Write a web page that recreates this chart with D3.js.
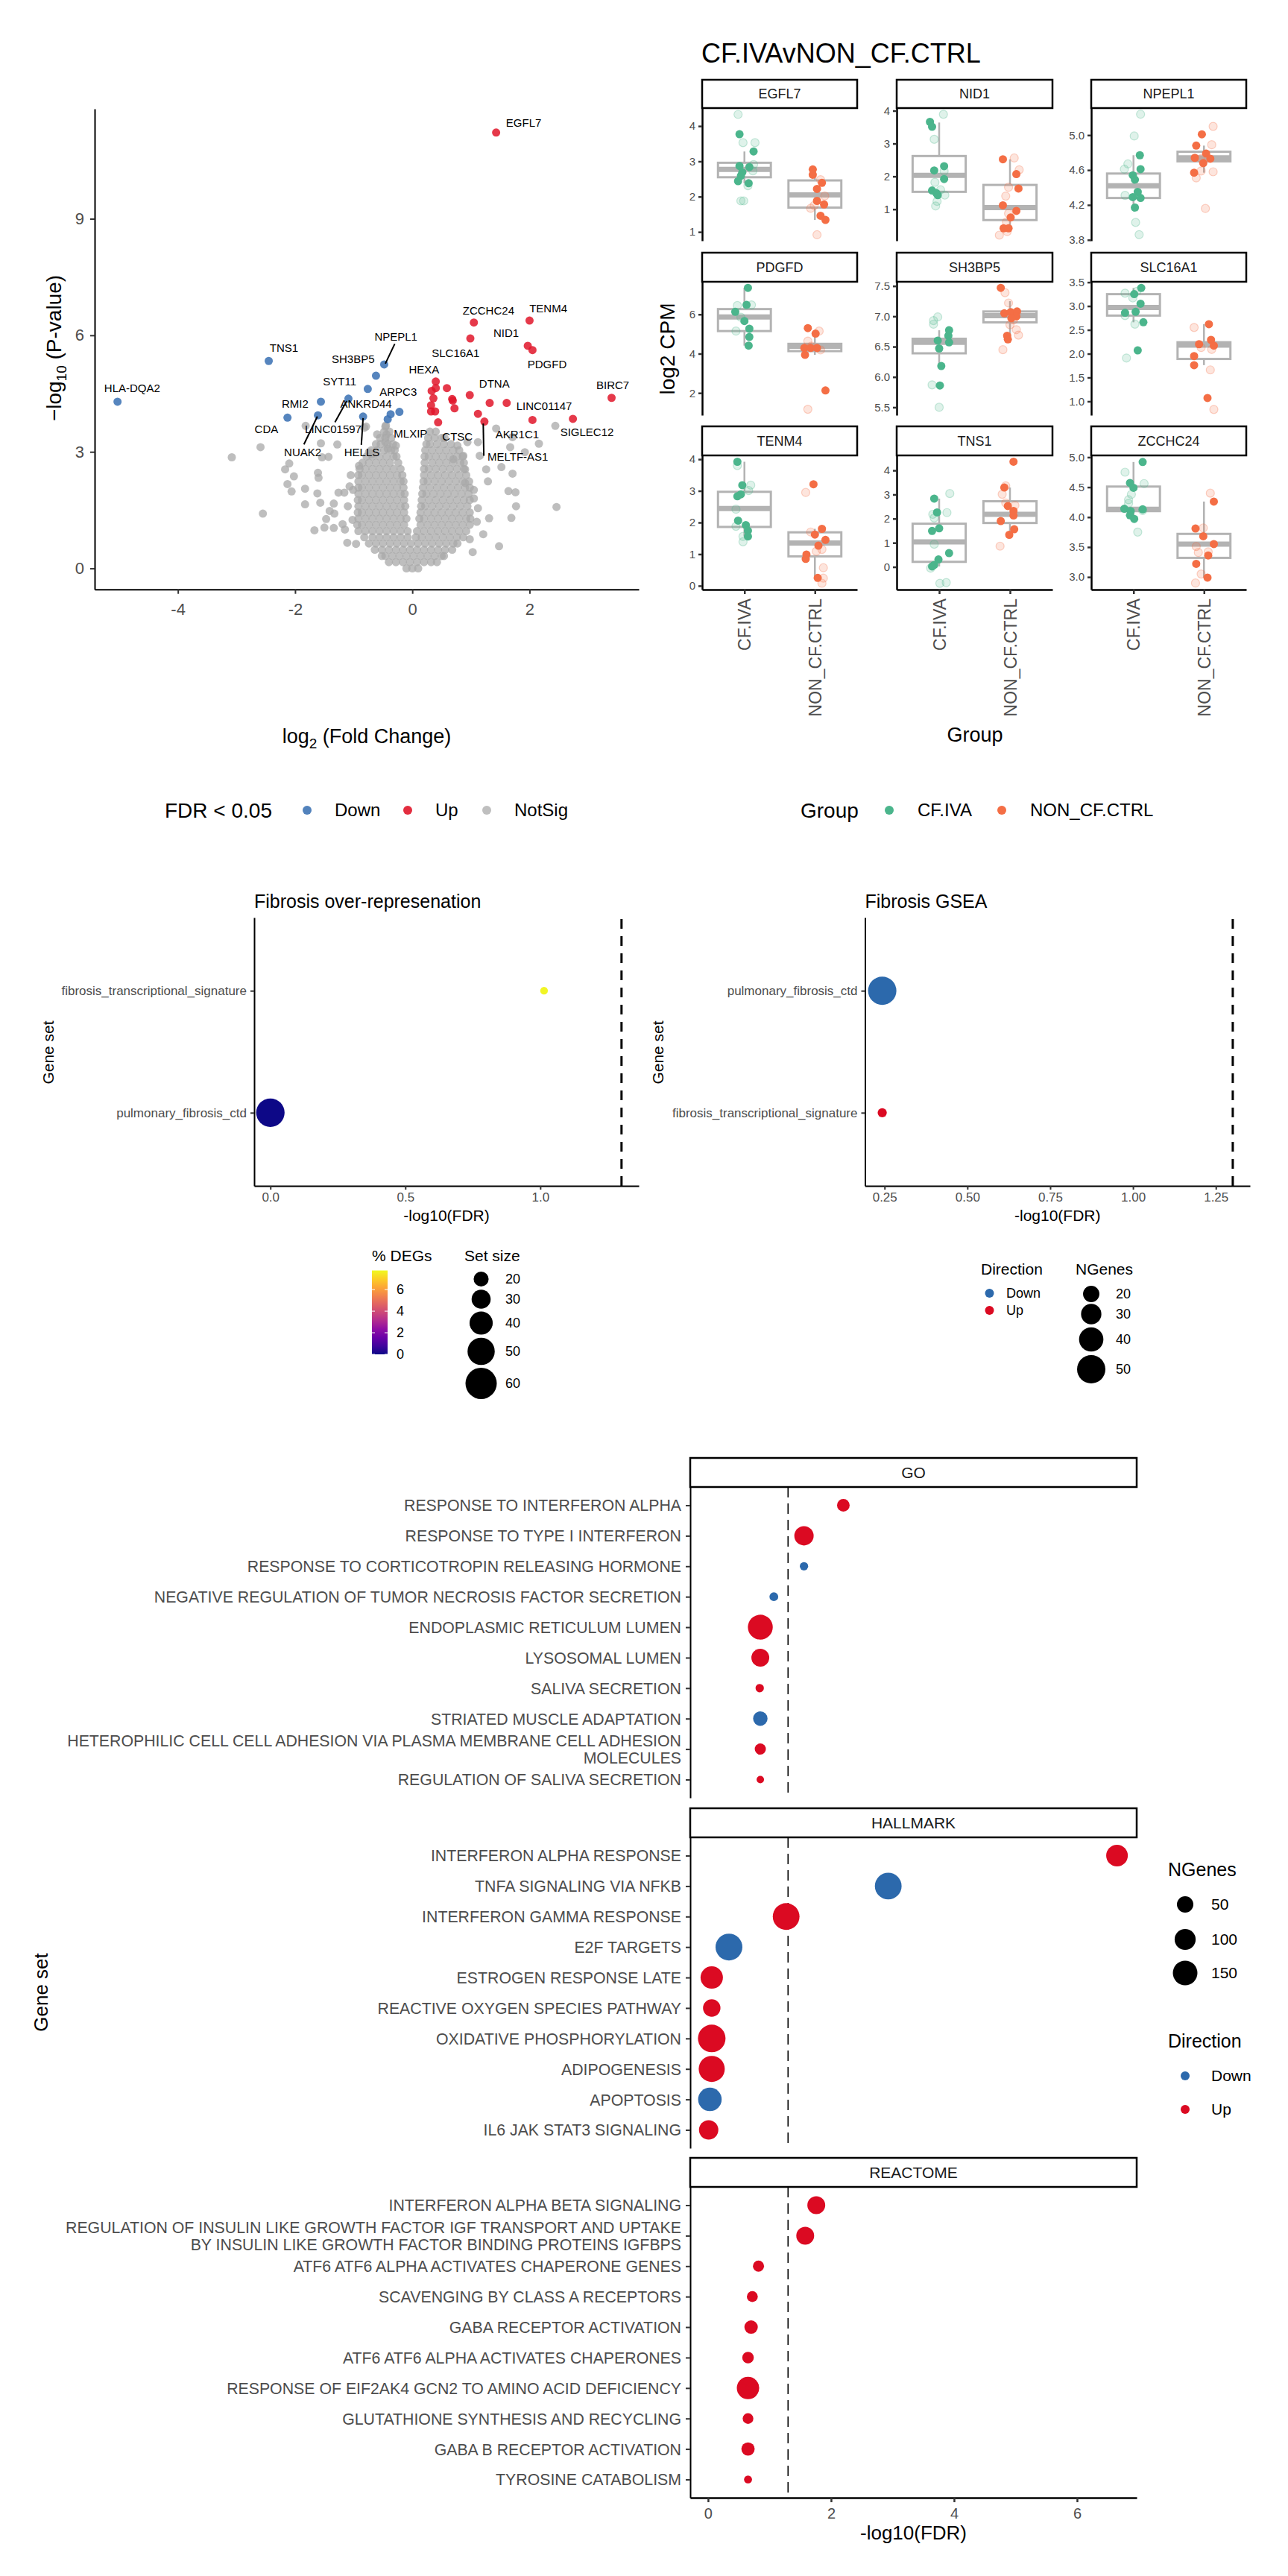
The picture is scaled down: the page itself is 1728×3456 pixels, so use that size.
<!DOCTYPE html>
<html>
<head>
<meta charset="utf-8">
<title>CF.IVAvNON_CF.CTRL</title>
<script src="https://cdn.jsdelivr.net/npm/d3@7"></script>
<style>
  body { margin: 0; background: #fff; }
  svg text { font-family: "Liberation Sans", Arial, Helvetica, sans-serif; }
</style>
</head>
<body>
<svg id="figure" width="1728" height="3456"></svg>
<script>
// ---------------- volcano data ----------------
const downLfc  = [-5.03, -2.45, -2.13, -1.61, -1.56, -1.09, -0.84, -0.76, -0.62, -0.48, -0.42, -0.37, -0.22]
const downLogP = [4.29, 5.34, 3.88, 3.94, 4.29, 4.37, 3.91, 4.62, 4.96, 5.25, 3.84, 3.97, 4.03]

const upLfc  = [1.43, 1.05, 2.0, 0.99, 1.97, 2.05, 3.4, 2.74, 2.05, 1.61, 1.32, 0.98, 1.12, 1.23, 0.40, 0.59, 0.40, 0.33, 0.36, 0.32, 0.32, 0.39, 0.68, 0.69, 0.72, 0.44]
const upLogP = [11.22, 6.33, 6.38, 5.92, 5.73, 5.62, 4.39, 3.85, 3.82, 4.26, 4.26, 4.46, 3.98, 3.78, 4.81, 4.64, 4.64, 4.57, 4.38, 4.2, 4.04, 4.04, 4.36, 4.32, 4.12, 3.76]

// non significant genes outside the dense cloud [log2FC, -log10 P]
const notSigScatter = [
  [-3.08, 2.86], [-2.59, 3.12], [-2.55, 1.41], [-2.17, 2.55], [-2.10, 2.70], [-2.02, 2.37], [-2.13, 2.17],
  [-2.06, 1.98], [-1.83, 2.05], [-1.83, 1.65], [-1.82, 3.67], [-1.62, 1.93], [-1.57, 1.69], [-1.61, 2.46],
  [-1.60, 2.33], [-1.56, 3.22], [-1.54, 2.86], [-1.43, 2.87], [-1.28, 3.19], [-1.26, 1.95], [-1.16, 1.95],
  [-1.41, 1.48], [-1.47, 1.27], [-1.34, 1.67], [-1.33, 1.41], [-1.67, 0.98], [-1.50, 1.05], [-1.34, 1.04],
  [-1.19, 1.14], [-1.15, 1.0], [-1.11, 0.66], [-0.96, 0.63], [-1.07, 2.11], [-1.01, 2.02], [-0.91, 2.64],
  [-0.82, 3.62], [-0.79, 3.65], [-0.60, 3.45], [-0.46, 3.65], [-0.44, 3.45], [-0.28, 3.16], [-0.46, 3.25],
  [-0.42, 3.08], [-0.74, 2.99], [-0.69, 2.94], [-1.05, 2.4], [-1.1, 1.6], [-1.02, 1.25],
  [1.43, 3.60], [1.71, 3.38], [2.16, 3.21], [2.44, 3.67], [1.67, 3.12], [1.92, 2.99], [1.52, 2.61],
  [1.71, 2.44], [1.64, 1.99], [1.76, 1.96], [1.77, 1.60], [2.46, 1.58], [1.69, 1.30], [1.31, 1.29],
  [1.21, 0.88], [1.03, 0.42], [1.48, 0.57], [1.29, 2.24], [1.05, 1.80], [1.12, 3.25], [0.94, 3.25],
  [0.77, 3.16], [0.87, 2.90], [1.15, 2.90], [0.90, 2.55], [0.90, 2.20], [1.05, 2.02], [1.26, 2.55], [0.70, 2.81],
  [1.12, 1.55], [1.1, 1.2], [0.98, 0.75]
]
// dense cloud, read row by row: [-log10 P, [log2FC ...]]
const notSigCoreRows = [
  [0.0, [-0.1, 0.0, 0.1]],
  [0.16, [-0.4, -0.28, -0.16, -0.04, 0.08, 0.2, 0.32, 0.42]],
  [0.32, [-0.52, -0.46, -0.34, -0.22, -0.1, 0.02, 0.14, 0.26, 0.38, 0.5, 0.54]],
  [0.48, [-0.64, -0.52, -0.4, -0.28, -0.16, -0.04, 0.08, 0.2, 0.32, 0.44, 0.56, 0.68]],
  [0.64, [-0.74, -0.62, -0.5, -0.38, -0.26, -0.14, -0.02, 0.1, 0.22, 0.34, 0.46, 0.58, 0.7, 0.77]],
  [0.8, [-0.82, -0.68, -0.56, -0.44, -0.32, -0.2, -0.08, 0.06, 0.16, 0.28, 0.4, 0.52, 0.64, 0.76, 0.87]],
  [0.96, [-0.92, -0.8, -0.68, -0.56, -0.44, -0.32, -0.2, -0.08, 0.08, 0.2, 0.32, 0.44, 0.56, 0.68, 0.8, 0.92]],
  [1.12, [-0.94, -0.86, -0.74, -0.62, -0.5, -0.38, -0.26, -0.14, 0.14, 0.26, 0.38, 0.5, 0.62, 0.74, 0.86, 0.98]],
  [1.28, [-0.92, -0.8, -0.68, -0.56, -0.44, -0.32, -0.2, -0.1, 0.12, 0.2, 0.32, 0.44, 0.56, 0.68, 0.8, 0.92, 0.99]],
  [1.44, [-0.93, -0.86, -0.74, -0.62, -0.5, -0.38, -0.26, -0.14, 0.14, 0.26, 0.38, 0.5, 0.62, 0.74, 0.86, 0.98]],
  [1.6, [-0.92, -0.8, -0.68, -0.56, -0.44, -0.32, -0.2, -0.12, 0.15, 0.22, 0.34, 0.46, 0.58, 0.7, 0.82, 0.94]],
  [1.76, [-0.93, -0.86, -0.74, -0.62, -0.5, -0.38, -0.26, -0.14, 0.16, 0.28, 0.4, 0.52, 0.64, 0.76, 0.88, 0.98]],
  [1.92, [-0.92, -0.8, -0.68, -0.56, -0.44, -0.32, -0.2, -0.13, 0.17, 0.24, 0.36, 0.48, 0.6, 0.72, 0.84, 0.96]],
  [2.08, [-0.92, -0.86, -0.74, -0.62, -0.5, -0.38, -0.26, -0.15, 0.18, 0.3, 0.42, 0.54, 0.66, 0.78, 0.9, 0.98]],
  [2.24, [-0.92, -0.8, -0.68, -0.56, -0.44, -0.32, -0.2, -0.15, 0.19, 0.26, 0.38, 0.5, 0.62, 0.74, 0.86, 0.97]],
  [2.4, [-0.92, -0.86, -0.74, -0.62, -0.5, -0.38, -0.26, -0.17, 0.2, 0.32, 0.44, 0.56, 0.68, 0.8, 0.92]],
  [2.56, [-0.9, -0.8, -0.68, -0.56, -0.44, -0.32, -0.2, 0.2, 0.28, 0.4, 0.52, 0.64, 0.76, 0.88]],
  [2.72, [-0.85, -0.74, -0.62, -0.5, -0.38, -0.24, 0.21, 0.34, 0.46, 0.58, 0.7, 0.82, 0.88]],
  [2.88, [-0.78, -0.68, -0.56, -0.44, -0.32, -0.27, 0.21, 0.28, 0.4, 0.52, 0.64, 0.76, 0.86]],
  [3.04, [-0.7, -0.6, -0.48, -0.36, -0.3, 0.22, 0.34, 0.46, 0.58, 0.7, 0.8]],
  [3.2, [-0.62, -0.54, -0.42, -0.33, 0.24, 0.3, 0.42, 0.54, 0.66]],
  [3.36, [-0.55, -0.46, -0.36, 0.27, 0.38, 0.5, 0.55]],
  [3.52, [-0.48, -0.39, 0.3, 0.4]],
  [3.68, [-0.45]]
]

// gene labels (repelled text positions, data units)
const labelText = ["EGFL7", "ZCCHC24", "TENM4", "NID1", "SLC16A1", "PDGFD", "NPEPL1", "TNS1", "SH3BP5", "HEXA", "DTNA",
  "BIRC7", "SYT11", "ARPC3", "HLA-DQA2", "RMI2", "ANKRD44", "LINC01147", "CDA", "LINC01597", "MLXIP", "CTSC",
  "AKR1C1", "SIGLEC12", "NUAK2", "HELLS", "MELTF-AS1"]
const labelLfc  = [1.90, 1.30, 2.32, 1.60, 0.74, 2.30, -0.28, -2.19, -1.01, 0.20, 1.40, 3.42, -1.24, -0.24, -4.78, -2.0,
  -0.79, 2.25, -2.49, -1.35, -0.03, 0.77, 1.79, 2.98, -1.87, -0.86, 1.80]
const labelLogP = [11.47, 6.64, 6.70, 6.06, 5.55, 5.25, 5.96, 5.67, 5.39, 5.12, 4.76, 4.72, 4.82, 4.55, 4.63, 4.24,
  4.24, 4.17, 3.59, 3.58, 3.47, 3.40, 3.45, 3.50, 2.99, 2.99, 2.88]
// leader segments [x1, y1, x2, y2]
const labelSegments = [[-0.46, 5.27, -0.30, 5.78], [-1.32, 3.76, -1.12, 4.31], [-1.85, 3.19, -1.62, 3.91],
  [-0.87, 3.18, -0.84, 3.87], [1.22, 2.90, 1.21, 3.73]]

// ---------------- expression boxplots ----------------
const boxGenes = ["EGFL7", "NID1", "NPEPL1", "PDGFD", "SH3BP5", "SLC16A1", "TENM4", "TNS1", "ZCCHC24"]
const groups = ["CF.IVA", "NON_CF.CTRL"]
const boxYLimits = [[0.75, 4.51], [0.04, 4.08], [3.79, 5.31], [0.87, 7.66], [5.37, 7.57], [0.71, 3.51],
  [-0.12, 4.12], [-0.94, 4.62], [2.79, 5.03]]
const boxYTicks = [[1, 2, 3, 4], [1, 2, 3, 4], [3.8, 4.2, 4.6, 5.0], [2, 4, 6], [5.5, 6.0, 6.5, 7.0, 7.5],
  [1.0, 1.5, 2.0, 2.5, 3.0, 3.5], [0, 1, 2, 3, 4], [0, 1, 2, 3, 4], [3.0, 3.5, 4.0, 4.5, 5.0]]
const boxTickFmt = ["d", "d", ".1f", "d", ".1f", ".1f", "d", "d", ".1f"]
// [lower whisker, q1, median, q3, upper whisker]
const boxCF = [[2.38, 2.55, 2.77, 2.96, 3.28], [1.43, 1.53, 2.03, 2.62, 3.64], [4.17, 4.28, 4.42, 4.56, 4.77],
  [4.41, 5.15, 5.87, 6.27, 7.35], [6.18, 6.39, 6.57, 6.63, 6.77], [2.66, 2.80, 2.97, 3.25, 3.38],
  [1.56, 1.86, 2.44, 2.97, 3.92], [0.02, 0.21, 1.04, 1.79, 2.83], [3.97, 4.10, 4.13, 4.51, 4.92]]
const boxNON = [[1.34, 1.69, 2.05, 2.46, 2.77], [0.42, 0.67, 1.05, 1.74, 2.52], [4.57, 4.70, 4.74, 4.81, 4.88],
  [3.94, 4.13, 4.38, 4.50, 5.02], [6.62, 6.90, 7.01, 7.08, 7.25], [1.76, 1.89, 2.18, 2.24, 2.62],
  [0.25, 0.93, 1.35, 1.69, 1.80], [1.33, 1.82, 2.18, 2.72, 3.29], [2.99, 3.32, 3.55, 3.72, 4.26]]
// samples [log2 CPM, horizontal jitter in category steps]
const solidCF = [
  [[3.77, -0.07], [3.28, 0.13], [2.87, -0.07], [2.84, 0.07], [2.69, -0.03], [2.59, -0.05], [2.44, -0.09], [2.38, 0.06]],
  [[3.66, -0.13], [3.51, -0.1], [2.31, 0.07], [2.18, -0.07], [1.92, 0.07], [1.57, -0.1], [1.49, -0.04], [1.43, -0.02]],
  [[4.77, 0.09], [4.61, 0.1], [4.54, -0.01], [4.49, 0.02], [4.35, 0.06], [4.29, -0.01], [4.28, 0.1], [4.17, 0.02]],
  [[7.35, 0.05], [6.48, 0.03], [6.13, -0.13], [5.66, 0], [5.27, 0.07], [4.85, 0.07], [4.41, 0.06]],
  [[6.77, 0.14], [6.68, 0.13], [6.60, -0.02], [6.57, 0.14], [6.47, 0], [6.18, 0.03], [5.86, 0.01]],
  [[3.38, 0.11], [3.25, 0.01], [3.05, 0.1], [2.86, -0.12], [2.88, 0.03], [2.66, 0.14], [2.07, 0.06]],
  [[3.92, -0.1], [3.18, -0.03], [2.89, -0.05], [2.83, -0.1], [2.06, -0.09], [1.92, 0.02], [1.74, 0.05], [1.56, 0.05]],
  [[2.83, -0.07], [2.26, -0.03], [1.6, 0], [1.49, -0.1], [0.57, 0.14], [0.31, -0.01], [0.08, -0.07], [0.02, -0.1]],
  [[4.92, 0.13], [4.57, -0.05], [4.49, 0], [4.14, -0.13], [4.10, -0.04], [4.13, 0.13], [4.03, -0.05], [3.97, 0.01]]
]
const fadedCF = [
  [[4.33, -0.09], [3.53, -0.02], [3.53, 0.15], [2.91, 0.13], [2.73, 0.12], [2.31, 0.05], [1.88, -0.05], [1.88, -0.01]],
  [[3.89, 0.06], [3.13, -0.07], [2.16, 0.07], [1.82, -0.06], [1.59, 0.02], [1.43, 0.08], [1.24, -0.03], [1.10, -0.05]],
  [[5.24, 0.1], [4.99, 0.01], [4.67, -0.08], [4.61, -0.13], [4.31, -0.12], [4.0, 0.03], [3.86, 0.08]],
  [[6.45, -0.1], [6.48, 0.1], [5.15, -0.12], [5.85, -0.05]],
  [[6.99, -0.02], [6.93, -0.08], [6.87, -0.08], [5.87, -0.1], [5.50, 0]],
  [[3.27, -0.12], [3.31, 0.05], [3.17, -0.01], [2.80, -0.12], [2.62, 0.02], [1.91, -0.1]],
  [[3.80, -0.1], [3.18, 0.09], [3.01, 0.06], [2.42, -0.12], [1.88, -0.12], [1.56, -0.02], [1.39, -0.02]],
  [[3.04, 0.15], [2.25, 0.11], [2.18, -0.09], [2.03, -0.07], [0.94, -0.07], [-0.05, -0.12], [-0.68, 0.01], [-0.65, 0.1]],
  [[4.75, -0.12], [4.56, 0.15], [4.38, -0.03], [4.29, -0.07], [4.23, -0.07], [4.11, 0.13], [3.75, 0.06]]
]
const solidNON = [
  [[2.77, -0.03], [2.62, -0.03], [2.39, 0.1], [2.22, 0.03], [1.88, 0.03], [1.78, 0.13], [1.46, 0.08], [1.34, 0.15]],
  [[2.52, -0.1], [2.07, 0.09], [1.63, 0.12], [1.12, -0.1], [0.95, 0.09], [0.75, 0.01], [0.42, -0.09], [0.42, -0.02]],
  [[5.01, -0.03], [4.88, -0.11], [4.79, 0.03], [4.74, -0.13], [4.73, 0.09], [4.68, -0.01], [4.57, -0.14]],
  [[5.30, -0.1], [5.02, 0.01], [4.29, -0.15], [4.29, -0.06], [4.29, 0.03], [2.13, 0.15], [3.94, -0.14]],
  [[7.47, -0.13], [7.05, -0.08], [7.07, 0.01], [7.08, 0.1], [7.0, 0.09], [6.97, 0.02], [6.68, -0.04], [6.62, -0.03]],
  [[2.62, 0.07], [2.2, -0.07], [2.29, 0.1], [2.17, 0.14], [1.95, -0.14], [1.76, -0.14], [1.07, 0.05]],
  [[3.21, -0.02], [1.80, 0.1], [1.62, 0], [1.45, 0.15], [1.27, 0.05], [0.99, -0.12], [0.85, -0.13], [0.25, 0.04]],
  [[4.36, 0.05], [3.29, -0.08], [2.52, -0.03], [2.32, 0.05], [2.13, 0.05], [1.90, -0.13], [1.56, 0.06], [1.33, -0.01]],
  [[4.26, 0.14], [3.81, -0.12], [3.68, -0.01], [3.55, 0.14], [3.36, 0.06], [3.22, -0.11], [2.99, 0.05]]
]
const fadedNON = [
  [[2.48, 0.08], [2.02, 0.14], [1.67, -0.06], [1.75, -0.01], [0.92, 0.03]],
  [[2.56, 0.06], [2.2, 0.13], [1.67, -0.02], [1.40, -0.06], [0.87, -0.02], [0.61, -0.05], [0.21, -0.15], [0.32, -0.04]],
  [[5.10, 0.13], [4.89, 0.11], [4.73, -0.04], [4.58, 0.13], [4.59, -0.04], [4.51, -0.11], [4.16, 0.02]],
  [[5.15, 0.06], [4.64, -0.1], [1.17, -0.1], [4.19, 0.08], [4.38, -0.05]],
  [[7.39, -0.07], [7.22, -0.02], [6.86, 0], [6.78, 0.09], [6.69, 0.12], [6.45, -0.1], [6.94, 0.05]],
  [[2.55, -0.14], [2.13, -0.04], [2.09, 0.11], [1.66, 0.09], [0.83, 0.14]],
  [[2.95, -0.13], [1.70, -0.06], [1.15, 0.1], [1.09, 0.02], [0.57, 0.12], [0.24, 0.12], [0.08, 0.1]],
  [[3.36, -0.06], [3.01, -0.11], [2.65, -0.06], [2.55, 0.07], [0.86, -0.14]],
  [[4.40, 0.09], [3.82, -0.01], [3.51, -0.11], [3.41, -0.08], [3.42, 0.06], [3.05, -0.04], [2.90, -0.12]]
]

// ---------------- fibrosis gene sets ----------------
const oraSets = ["pulmonary_fibrosis_ctd", "fibrosis_transcriptional_signature"]
const oraLogFdr = [0.0, 1.014]
const oraPctDEG = [0, 7.7]
const oraSetSize = [53, 2]
const oraSizeBreaks = [20, 30, 40, 50, 60]
const oraColorBreaks = [0, 2, 4, 6]

const gseaSets = ["fibrosis_transcriptional_signature", "pulmonary_fibrosis_ctd"]
const gseaLogFdr = [0.243, 0.243]
const gseaDirection = ["Up", "Down"]
const gseaNGenes = [2, 50]
const gseaSizeBreaks = [20, 30, 40, 50]

// ---------------- pathway enrichment ----------------
const goTerms = ["RESPONSE TO INTERFERON ALPHA", "RESPONSE TO TYPE I INTERFERON", "RESPONSE TO CORTICOTROPIN RELEASING HORMONE",
  "NEGATIVE REGULATION OF TUMOR NECROSIS FACTOR SECRETION", "ENDOPLASMIC RETICULUM LUMEN", "LYSOSOMAL LUMEN",
  "SALIVA SECRETION", "STRIATED MUSCLE ADAPTATION",
  "HETEROPHILIC CELL CELL ADHESION VIA PLASMA MEMBRANE CELL ADHESION MOLECULES", "REGULATION OF SALIVA SECRETION"]
const goLogFdr = [2.2, 1.56, 1.56, 1.07, 0.85, 0.85, 0.84, 0.85, 0.85, 0.85]
const goNGenes = [22, 80, 4, 5, 155, 64, 4, 34, 14, 2]
const goDirection = ["Up", "Up", "Down", "Down", "Up", "Up", "Up", "Down", "Up", "Up"]

const hallmarkTerms = ["INTERFERON ALPHA RESPONSE", "TNFA SIGNALING VIA NFKB", "INTERFERON GAMMA RESPONSE", "E2F TARGETS",
  "ESTROGEN RESPONSE LATE", "REACTIVE OXYGEN SPECIES PATHWAY", "OXIDATIVE PHOSPHORYLATION", "ADIPOGENESIS",
  "APOPTOSIS", "IL6 JAK STAT3 SIGNALING"]
const hallmarkLogFdr = [6.65, 2.93, 1.27, 0.34, 0.06, 0.06, 0.06, 0.06, 0.03, 0.01]
const hallmarkNGenes = [108, 185, 185, 187, 118, 60, 200, 174, 134, 80]
const hallmarkDirection = ["Up", "Down", "Up", "Down", "Up", "Up", "Up", "Up", "Down", "Up"]

const reactomeTerms = ["INTERFERON ALPHA BETA SIGNALING",
  "REGULATION OF INSULIN LIKE GROWTH FACTOR IGF TRANSPORT AND UPTAKE BY INSULIN LIKE GROWTH FACTOR BINDING PROTEINS IGFBPS",
  "ATF6 ATF6 ALPHA ACTIVATES CHAPERONE GENES", "SCAVENGING BY CLASS A RECEPTORS", "GABA RECEPTOR ACTIVATION",
  "ATF6 ATF6 ALPHA ACTIVATES CHAPERONES", "RESPONSE OF EIF2AK4 GCN2 TO AMINO ACID DEFICIENCY",
  "GLUTATHIONE SYNTHESIS AND RECYCLING", "GABA B RECEPTOR ACTIVATION", "TYROSINE CATABOLISM"]
const reactomeLogFdr = [1.76, 1.58, 0.82, 0.72, 0.70, 0.65, 0.65, 0.65, 0.65, 0.65]
const reactomeNGenes = [64, 64, 14, 13, 27, 16, 118, 12, 26, 3]
const reactomeDirection = ["Up", "Up", "Up", "Up", "Up", "Up", "Up", "Up", "Up", "Up"]
const pathwaySizeBreaks = [50, 100, 150]

// ================= drawing =================
const svg = d3.select("#figure")
svg.append("rect").attr("width", 1728).attr("height", 3456).attr("fill", "#fff")

const TXT = "#4D4D4D"
const UP_RED = "#DB0A22"
const DOWN_BLUE = "#2C69AC"
const groupColor = ["#4BB58C", "#F46E45"]
const dirColor = { Up: UP_RED, Down: DOWN_BLUE }

function axisStyle(g, size, lw) {
  g.attr("font-size", size)
  g.select(".domain").attr("stroke", "#000").attr("stroke-width", lw)
  g.selectAll(".tick line").attr("stroke", "#333").attr("stroke-width", lw)
  g.selectAll(".tick text").attr("fill", TXT)
  return g
}

function rotLabel(x, y, txt, size) {
  return svg.append("text").attr("transform", `translate(${x},${y}) rotate(-90)`)
    .attr("text-anchor", "middle").attr("font-size", size).text(txt)
}

// ---------- volcano ----------
const vx = d3.scaleLinear().domain([-5.42, 3.864]).range([127, 857])
const vy = d3.scaleLinear().domain([-0.54, 11.83]).range([790.7, 146])
const volcano = svg.append("g")
const PT_R = 5.5

const greyPts = notSigScatter.concat(notSigCoreRows.flatMap(([p, xs]) => xs.map(x => [x, p])))
volcano.append("g").selectAll("circle").data(greyPts).join("circle")
  .attr("cx", d => vx(d[0])).attr("cy", d => vy(d[1])).attr("r", PT_R)
  .attr("fill", "#A8A8A8").attr("fill-opacity", 0.75)
volcano.append("g").selectAll("circle").data(d3.zip(downLfc, downLogP)).join("circle")
  .attr("cx", d => vx(d[0])).attr("cy", d => vy(d[1])).attr("r", PT_R)
  .attr("fill", "#3F74B5").attr("fill-opacity", 0.88)
volcano.append("g").selectAll("circle").data(d3.zip(upLfc, upLogP)).join("circle")
  .attr("cx", d => vx(d[0])).attr("cy", d => vy(d[1])).attr("r", PT_R)
  .attr("fill", "#E0162A").attr("fill-opacity", 0.85)

volcano.append("g").selectAll("line").data(labelSegments).join("line")
  .attr("x1", d => vx(d[0])).attr("y1", d => vy(d[1])).attr("x2", d => vx(d[2])).attr("y2", d => vy(d[3]))
  .attr("stroke", "#000").attr("stroke-width", 2)
volcano.append("g").selectAll("text").data(labelText).join("text")
  .attr("x", (d, i) => vx(labelLfc[i])).attr("y", (d, i) => vy(labelLogP[i])).attr("dy", "0.35em")
  .attr("text-anchor", "middle").attr("font-size", 15).text(d => d)

axisStyle(volcano.append("g").attr("transform", "translate(0,790.7)")
  .call(d3.axisBottom(vx).tickValues([-4, -2, 0, 2]).tickFormat(d => d).tickSize(6).tickSizeOuter(0).tickPadding(13)), 22, 2)
axisStyle(volcano.append("g").attr("transform", "translate(127,0)")
  .call(d3.axisLeft(vy).tickValues([0, 3, 6, 9]).tickFormat(d => d).tickSize(6).tickSizeOuter(0).tickPadding(8)), 22, 2)

const vyt = svg.append("text").attr("transform", "translate(82,467) rotate(-90)")
  .attr("text-anchor", "middle").attr("font-size", 28)
vyt.append("tspan").text("\u2212log")
vyt.append("tspan").attr("font-size", 19).attr("dy", 7).text("10")
vyt.append("tspan").attr("dy", -7).text(" (P-value)")
const vxt = svg.append("text").attr("x", 492).attr("y", 997).attr("text-anchor", "middle").attr("font-size", 27)
vxt.append("tspan").text("log")
vxt.append("tspan").attr("font-size", 19).attr("dy", 7).text("2")
vxt.append("tspan").attr("dy", -7).text(" (Fold Change)")

// legends under the top row
const legY = 1087
svg.append("text").attr("x", 221).attr("y", legY).attr("dy", "0.35em").attr("font-size", 28).text("FDR < 0.05")
const volcLeg = [["Down", "#3F74B5", 412], ["Up", "#E0162A", 547], ["NotSig", "#B8B8B8", 653]]
volcLeg.forEach(([lab, col, x]) => {
  svg.append("circle").attr("cx", x).attr("cy", legY).attr("r", 6).attr("fill", col).attr("fill-opacity", 0.9)
  svg.append("text").attr("x", x + 37).attr("y", legY).attr("dy", "0.35em").attr("font-size", 24).text(lab)
})
svg.append("text").attr("x", 1074).attr("y", legY).attr("dy", "0.35em").attr("font-size", 28).text("Group")
const grpLegX = [1193, 1344]
groups.forEach((grp, k) => {
  svg.append("circle").attr("cx", grpLegX[k]).attr("cy", legY).attr("r", 6).attr("fill", groupColor[k])
  svg.append("text").attr("x", grpLegX[k] + 38).attr("y", legY).attr("dy", "0.35em").attr("font-size", 24).text(grp)
})

// ---------- boxplot facets ----------
svg.append("text").attr("x", 941).attr("y", 84).attr("font-size", 36).text("CF.IVAvNON_CF.CTRL")
rotLabel(905, 468, "log2 CPM", 28)
svg.append("text").attr("x", 1308).attr("y", 995).attr("text-anchor", "middle").attr("font-size", 27).text("Group")

const colX = [[942, 1150], [1203, 1412], [1464, 1672]]
const rowY = [[107, 145, 323], [339, 378, 557], [572, 611, 791]]
const BOX_GREY = "#B3B3B3"

boxGenes.forEach((gene, i) => {
  const [x0, x1] = colX[i % 3]
  const row = Math.floor(i / 3)
  const [s0, p0, p1] = rowY[row]
  const g = svg.append("g")
  const x = d3.scalePoint().domain(groups).range([x0, x1]).padding(0.6)
  const y = d3.scaleLinear().domain(boxYLimits[i]).range([p1, p0])
  const bw = x.step() * 0.75

  g.append("rect").attr("x", x0).attr("y", s0).attr("width", x1 - x0).attr("height", p0 - s0)
    .attr("fill", "#fff").attr("stroke", "#000").attr("stroke-width", 2.5)
  g.append("text").attr("x", (x0 + x1) / 2).attr("y", (s0 + p0) / 2).attr("dy", "0.35em")
    .attr("text-anchor", "middle").attr("font-size", 18).attr("fill", "#1A1A1A").text(gene)

  const stats = [boxCF[i], boxNON[i]]
  groups.forEach((grp, k) => {
    const [lo, q1, med, q3, hi] = stats[k]
    const cx = x(grp)
    g.append("line").attr("x1", cx).attr("x2", cx).attr("y1", y(q3)).attr("y2", y(hi))
      .attr("stroke", BOX_GREY).attr("stroke-width", 2.5)
    g.append("line").attr("x1", cx).attr("x2", cx).attr("y1", y(q1)).attr("y2", y(lo))
      .attr("stroke", BOX_GREY).attr("stroke-width", 2.5)
    g.append("rect").attr("x", cx - bw / 2).attr("y", y(q3)).attr("width", bw).attr("height", y(q1) - y(q3))
      .attr("fill", "none").attr("stroke", BOX_GREY).attr("stroke-width", 3)
    g.append("line").attr("x1", cx - bw / 2).attr("x2", cx + bw / 2).attr("y1", y(med)).attr("y2", y(med))
      .attr("stroke", BOX_GREY).attr("stroke-width", 7)
  })

  const layers = [[fadedCF[i], 0, true], [fadedNON[i], 1, true], [solidCF[i], 0, false], [solidNON[i], 1, false]]
  layers.forEach(([pts, k, faded]) => {
    g.append("g").selectAll("circle").data(pts).join("circle")
      .attr("cx", d => x(groups[k]) + d[1] * x.step()).attr("cy", d => y(d[0])).attr("r", 5.5)
      .attr("fill", groupColor[k]).attr("fill-opacity", faded ? 0.18 : 1)
      .attr("stroke", groupColor[k]).attr("stroke-opacity", faded ? 0.3 : 0).attr("stroke-width", 1.2)
  })

  axisStyle(g.append("g").attr("transform", `translate(${x0},0)`)
    .call(d3.axisLeft(y).tickValues(boxYTicks[i]).tickFormat(d3.format(boxTickFmt[i]))
      .tickSize(5).tickSizeOuter(0).tickPadding(4)), 15, 2.5)

  if (row === 2) {
    const ax = g.append("g").attr("transform", `translate(0,${p1})`)
      .call(d3.axisBottom(x).tickSize(6).tickSizeOuter(0))
    axisStyle(ax, 23, 2.5)
    ax.selectAll(".tick text").attr("transform", "rotate(-90)").attr("text-anchor", "end")
      .attr("x", -12).attr("y", 0).attr("dy", "0.35em")
  }
})

// ---------- fibrosis over-representation ----------
const oraX = d3.scaleLinear().domain([-0.06, 1.365]).range([341, 857])
const oraY = d3.scalePoint().domain(oraSets).range([1591, 1231]).padding(0.6)
const oraColor = d3.scaleSequential(d3.interpolatePlasma).domain([0, 7.77])
const oraSize = d3.scaleLinear().domain([0, 60]).range([4.6, 21])
const fdrCut = -Math.log10(0.05)

svg.append("text").attr("x", 341).attr("y", 1218).attr("font-size", 25).text("Fibrosis over-represenation")
svg.append("line").attr("x1", oraX(fdrCut)).attr("x2", oraX(fdrCut)).attr("y1", 1233).attr("y2", 1591)
  .attr("stroke", "#000").attr("stroke-width", 3).attr("stroke-dasharray", "13,10")
svg.append("g").selectAll("circle").data(oraSets).join("circle")
  .attr("cx", (d, i) => oraX(oraLogFdr[i])).attr("cy", d => oraY(d))
  .attr("r", (d, i) => oraSize(oraSetSize[i])).attr("fill", (d, i) => oraColor(oraPctDEG[i]))
axisStyle(svg.append("g").attr("transform", "translate(0,1591)")
  .call(d3.axisBottom(oraX).tickValues([0, 0.5, 1.0]).tickFormat(d3.format(".1f")).tickSize(5).tickSizeOuter(0).tickPadding(4)), 17, 2)
axisStyle(svg.append("g").attr("transform", "translate(341,0)")
  .call(d3.axisLeft(oraY).tickSize(5).tickSizeOuter(0).tickPadding(5)), 17, 2)
svg.append("text").attr("x", 599).attr("y", 1638).attr("text-anchor", "middle").attr("font-size", 21).text("-log10(FDR)")
rotLabel(72, 1412, "Gene set", 21)

// colour bar legend
const defs = svg.append("defs")
const grad = defs.append("linearGradient").attr("id", "plasmaBar").attr("x1", 0).attr("x2", 0).attr("y1", 1).attr("y2", 0)
d3.range(0, 1.0001, 0.1).forEach(t => grad.append("stop").attr("offset", t).attr("stop-color", d3.interpolatePlasma(t)))
const barY = d3.scaleLinear().domain([0, 7.77]).range([1817, 1704.5])
svg.append("text").attr("x", 499).attr("y", 1692).attr("font-size", 21).text("% DEGs")
svg.append("rect").attr("x", 499).attr("y", barY(7.77)).attr("width", 21).attr("height", barY(0) - barY(7.77))
  .attr("fill", "url(#plasmaBar)")
oraColorBreaks.forEach(v => {
  svg.append("line").attr("x1", 499).attr("x2", 503).attr("y1", barY(v)).attr("y2", barY(v)).attr("stroke", "#fff").attr("stroke-width", 1)
  svg.append("line").attr("x1", 516).attr("x2", 520).attr("y1", barY(v)).attr("y2", barY(v)).attr("stroke", "#fff").attr("stroke-width", 1)
  svg.append("text").attr("x", 532).attr("y", barY(v)).attr("dy", "0.35em").attr("font-size", 18).text(v)
})
// set size legend
const oraKeyY = [1716, 1743, 1775, 1813, 1856]
svg.append("text").attr("x", 623).attr("y", 1692).attr("font-size", 21).text("Set size")
oraSizeBreaks.forEach((v, k) => {
  svg.append("circle").attr("cx", 645.5).attr("cy", oraKeyY[k]).attr("r", oraSize(v)).attr("fill", "#000")
  svg.append("text").attr("x", 678).attr("y", oraKeyY[k]).attr("dy", "0.35em").attr("font-size", 18).text(v)
})

// ---------- fibrosis GSEA ----------
const gX = d3.scaleLinear().domain([0.191, 1.353]).range([1160.5, 1677])
const gY = d3.scalePoint().domain(gseaSets).range([1591, 1231]).padding(0.6)
const gSize = d3.scaleLinear().domain([0, 50]).range([5.6, 19])

svg.append("text").attr("x", 1160.5).attr("y", 1218).attr("font-size", 25).text("Fibrosis GSEA")
svg.append("line").attr("x1", gX(fdrCut)).attr("x2", gX(fdrCut)).attr("y1", 1233).attr("y2", 1591)
  .attr("stroke", "#000").attr("stroke-width", 3).attr("stroke-dasharray", "13,10")
svg.append("g").selectAll("circle").data(gseaSets).join("circle")
  .attr("cx", (d, i) => gX(gseaLogFdr[i])).attr("cy", d => gY(d))
  .attr("r", (d, i) => gSize(gseaNGenes[i])).attr("fill", (d, i) => dirColor[gseaDirection[i]])
axisStyle(svg.append("g").attr("transform", "translate(0,1591)")
  .call(d3.axisBottom(gX).tickValues([0.25, 0.5, 0.75, 1.0, 1.25]).tickFormat(d3.format(".2f")).tickSize(5).tickSizeOuter(0).tickPadding(4)), 17, 2)
axisStyle(svg.append("g").attr("transform", "translate(1160.5,0)")
  .call(d3.axisLeft(gY).tickSize(5).tickSizeOuter(0).tickPadding(5)), 17, 2)
svg.append("text").attr("x", 1418.75).attr("y", 1638).attr("text-anchor", "middle").attr("font-size", 21).text("-log10(FDR)")
rotLabel(890, 1412, "Gene set", 21)

svg.append("text").attr("x", 1316).attr("y", 1710).attr("font-size", 21).text("Direction")
const dirKeyY = [1735, 1758]
;["Down", "Up"].forEach((d, k) => {
  svg.append("circle").attr("cx", 1327.5).attr("cy", dirKeyY[k]).attr("r", 6).attr("fill", dirColor[d])
  svg.append("text").attr("x", 1350).attr("y", dirKeyY[k]).attr("dy", "0.35em").attr("font-size", 18).text(d)
})
const gKeyY = [1736, 1763, 1797, 1837]
svg.append("text").attr("x", 1443).attr("y", 1710).attr("font-size", 21).text("NGenes")
gseaSizeBreaks.forEach((v, k) => {
  svg.append("circle").attr("cx", 1464).attr("cy", gKeyY[k]).attr("r", gSize(v)).attr("fill", "#000")
  svg.append("text").attr("x", 1497).attr("y", gKeyY[k]).attr("dy", "0.35em").attr("font-size", 18).text(v)
})

// ---------- pathway facets ----------
const bx = d3.scaleLinear().domain([-0.29, 6.97]).range([926, 1525])
const bSize = d3.scalePow().exponent(0.5).domain([0, 200]).range([3.5, 18.5])
const facets = [
  { name: "GO", terms: goTerms, fdr: goLogFdr, n: goNGenes, dir: goDirection, top: 1956 },
  { name: "HALLMARK", terms: hallmarkTerms, fdr: hallmarkLogFdr, n: hallmarkNGenes, dir: hallmarkDirection, top: 2426 },
  { name: "REACTOME", terms: reactomeTerms, fdr: reactomeLogFdr, n: reactomeNGenes, dir: reactomeDirection, top: 2895 }
]

function wrapWords(str, width) {
  const lines = []
  let cur = ""
  str.split(" ").forEach(w => {
    if (cur && (cur + " " + w).length > width) { lines.push(cur); cur = w }
    else cur = cur ? cur + " " + w : w
  })
  lines.push(cur)
  return lines
}

facets.forEach((f, fi) => {
  const g = svg.append("g")
  const pTop = f.top + 39
  const pBot = pTop + 417
  const y = d3.scalePoint().domain(f.terms).range([pTop, pBot]).padding(0.6)

  g.append("rect").attr("x", 926).attr("y", f.top).attr("width", 599).attr("height", 39)
    .attr("fill", "#fff").attr("stroke", "#000").attr("stroke-width", 2.5)
  g.append("text").attr("x", 1225.5).attr("y", f.top + 19.5).attr("dy", "0.35em").attr("text-anchor", "middle")
    .attr("font-size", 21).attr("fill", "#1A1A1A").text(f.name)

  g.append("line").attr("x1", bx(fdrCut)).attr("x2", bx(fdrCut)).attr("y1", pTop).attr("y2", pBot)
    .attr("stroke", "#000").attr("stroke-width", 1.6).attr("stroke-dasharray", "14,8")

  g.append("g").selectAll("circle").data(f.terms).join("circle")
    .attr("cx", (d, i) => bx(f.fdr[i])).attr("cy", d => y(d))
    .attr("r", (d, i) => bSize(f.n[i])).attr("fill", (d, i) => dirColor[f.dir[i]])

  const ay = g.append("g").attr("transform", "translate(926,0)")
    .call(d3.axisLeft(y).tickSize(6).tickSizeOuter(0).tickPadding(5))
  axisStyle(ay, 21.3, 2)
  ay.selectAll(".tick text").each(function (d) {
    const lines = wrapWords(d, 66)
    const t = d3.select(this).text(null).attr("dy", null)
    lines.forEach((ln, j) => {
      t.append("tspan").attr("x", -12)
        .attr("dy", j === 0 ? `${0.35 - (lines.length - 1) * 0.54}em` : "1.08em").text(ln)
    })
  })

  if (fi === facets.length - 1) {
    axisStyle(g.append("g").attr("transform", `translate(0,${pBot})`)
      .call(d3.axisBottom(bx).tickValues([0, 2, 4, 6]).tickFormat(d => d).tickSize(6).tickSizeOuter(0).tickPadding(8)), 20, 2.5)
  }
})
svg.append("text").attr("x", 1225.5).attr("y", 3407).attr("text-anchor", "middle").attr("font-size", 26).text("-log10(FDR)")
rotLabel(64, 2673, "Gene set", 26)

// pathway legends
const pKeyY = [2555, 2602, 2647]
svg.append("text").attr("x", 1567).attr("y", 2517).attr("font-size", 25).text("NGenes")
pathwaySizeBreaks.forEach((v, k) => {
  svg.append("circle").attr("cx", 1590).attr("cy", pKeyY[k]).attr("r", bSize(v)).attr("fill", "#000")
  svg.append("text").attr("x", 1625).attr("y", pKeyY[k]).attr("dy", "0.35em").attr("font-size", 21).text(v)
})
svg.append("text").attr("x", 1567).attr("y", 2747).attr("font-size", 25).text("Direction")
const pDirY = [2785, 2830]
;["Down", "Up"].forEach((d, k) => {
  svg.append("circle").attr("cx", 1590).attr("cy", pDirY[k]).attr("r", 6).attr("fill", dirColor[d])
  svg.append("text").attr("x", 1625).attr("y", pDirY[k]).attr("dy", "0.35em").attr("font-size", 21).text(d)
})
</script>
</body>
</html>
